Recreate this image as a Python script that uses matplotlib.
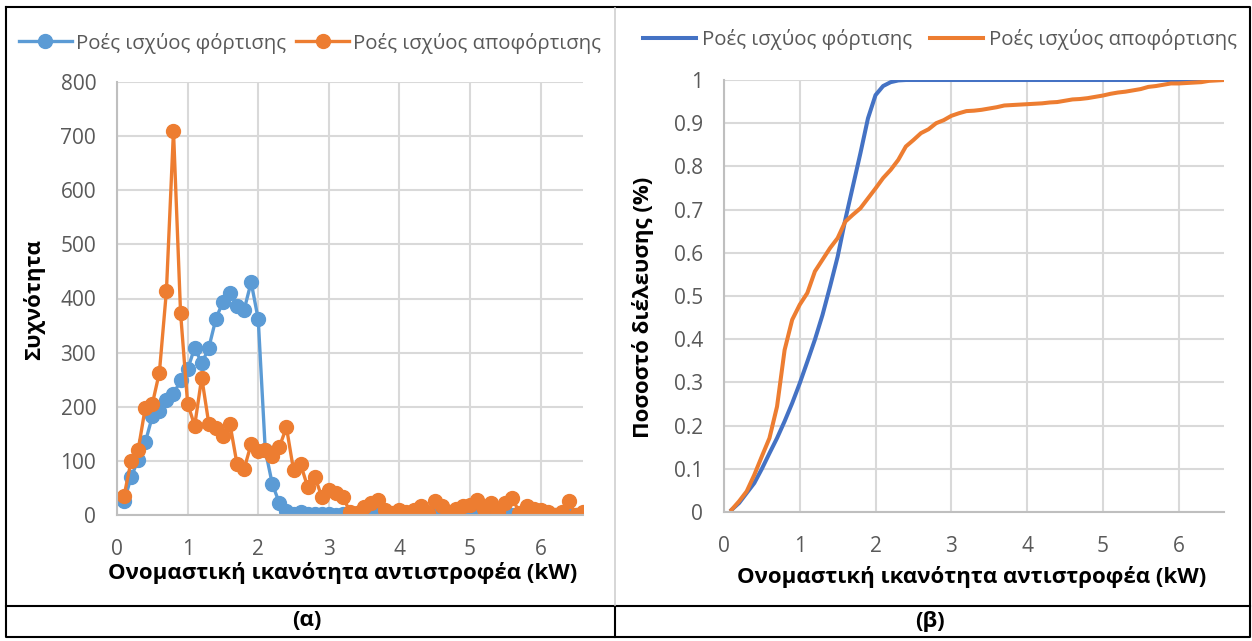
import matplotlib.pyplot as plt
from matplotlib.lines import Line2D
from matplotlib.ticker import FuncFormatter

plt.rcParams['font.family'] = ['Open Sans', 'DejaVu Sans']

W, H = 1252, 641

# ονομαστική ικανότητα αντιστροφέα (kW)
capacity = [0.1, 0.2, 0.3, 0.4, 0.5, 0.6, 0.7, 0.8, 0.9, 1.0,
            1.1, 1.2, 1.3, 1.4, 1.5, 1.6, 1.7, 1.8, 1.9, 2.0,
            2.1, 2.2, 2.3, 2.4, 2.5, 2.6, 2.7, 2.8, 2.9, 3.0,
            3.1, 3.2, 3.3, 3.4, 3.5, 3.6, 3.7, 3.8, 3.9, 4.0,
            4.1, 4.2, 4.3, 4.4, 4.5, 4.6, 4.7, 4.8, 4.9, 5.0,
            5.1, 5.2, 5.3, 5.4, 5.5, 5.6, 5.7, 5.8, 5.9, 6.0,
            6.1, 6.2, 6.3, 6.4, 6.5, 6.6]

# (α) συχνότητα
freq_charge = [25, 70, 102, 134, 182, 192, 212, 223, 249, 269,
               309, 280, 309, 362, 394, 411, 387, 379, 430, 362,
               120, 57, 22, 8, 1, 5, 2, 1, 1, 1,
               0, 1, 0, 1, 0, 1, 0, 1, 0, 0,
               1, 0, 0, 1, 2, 0, 1, 0, 0, 1,
               3, 0, 1, 0, 2, 0, 1, 0, 0, 1,
               0, 0, 1, 0, 0, 1]
freq_discharge = [35, 100, 120, 198, 205, 263, 414, 710, 374, 206,
                  165, 254, 169, 160, 146, 168, 94, 85, 131, 119,
                  120, 109, 126, 162, 83, 94, 52, 71, 34, 47,
                  40, 33, 6, 3, 15, 22, 28, 9, 3, 9,
                  6, 9, 17, 3, 25, 17, 6, 12, 17, 18,
                  28, 12, 22, 6, 23, 31, 4, 17, 12, 9,
                  6, 0, 6, 26, 0, 6]

# (β) ποσοστό διέλευσης
cum_charge = [0.005, 0.021, 0.044, 0.067, 0.10, 0.136, 0.171, 0.21, 0.252, 0.298,
              0.348, 0.399, 0.456, 0.522, 0.591, 0.676, 0.753, 0.830, 0.911, 0.965,
              0.986, 0.995, 0.999, 1.0, 1.0, 1.0, 1.0, 1.0, 1.0, 1.0,
              1.0, 1.0, 1.0, 1.0, 1.0, 1.0, 1.0, 1.0, 1.0, 1.0,
              1.0, 1.0, 1.0, 1.0, 1.0, 1.0, 1.0, 1.0, 1.0, 1.0,
              1.0, 1.0, 1.0, 1.0, 1.0, 1.0, 1.0, 1.0, 1.0, 1.0,
              1.0, 1.0, 1.0, 1.0, 1.0, 1.0]
cum_discharge = [0.005, 0.025, 0.048, 0.086, 0.129, 0.171, 0.244, 0.375, 0.445, 0.48,
                 0.507, 0.557, 0.584, 0.611, 0.634, 0.672, 0.688, 0.703, 0.726, 0.749,
                 0.773, 0.792, 0.815, 0.846, 0.861, 0.877, 0.886, 0.900, 0.907, 0.917,
                 0.923, 0.928, 0.929, 0.931, 0.934, 0.937, 0.941, 0.942, 0.943, 0.944,
                 0.945, 0.946, 0.948, 0.949, 0.952, 0.955, 0.956, 0.958, 0.961, 0.964,
                 0.968, 0.971, 0.973, 0.976, 0.979, 0.984, 0.986, 0.989, 0.992, 0.992,
                 0.993, 0.994, 0.995, 0.998, 0.999, 1.0]

labels = ['Ροές ισχύος φόρτισης', 'Ροές ισχύος αποφόρτισης']
xlabel = 'Ονομαστική ικανότητα αντιστροφέα (kW)'

blue1, blue2, orange = '#5B9BD5', '#4472C4', '#ED7D31'
grid_c, tick_c = '#D9D9D9', '#595959'


def px_box(x0, y0, x1, y1):
    # pixel box (top-left origin) -> figure fraction rect
    return [x0 / W, 1 - y1 / H, (x1 - x0) / W, (y1 - y0) / H]


def style(ax):
    ax.grid(True, color=grid_c, lw=1.5)
    ax.set_axisbelow(True)
    for s in ['top', 'right']:
        ax.spines[s].set_visible(False)
    for s in ['left', 'bottom']:
        ax.spines[s].set_color('#BFBFBF')
        ax.spines[s].set_linewidth(1.5)
    ax.tick_params(length=0, labelsize=15, colors=tick_c)
    ax.tick_params(axis='x', pad=17)
    ax.tick_params(axis='y', pad=15)
    ax.set_xticks([0, 1, 2, 3, 4, 5, 6])
    ax.set_xlim(0, 6.6)


fig = plt.figure(figsize=(W / 100, H / 100), dpi=100)

# (α)
ax1 = fig.add_axes(px_box(117, 82, 583, 515))
ax1.plot(capacity, freq_charge, '-o', color=blue1, lw=2.4, ms=10, label=labels[0])
ax1.plot(capacity, freq_discharge, '-o', color=orange, lw=2.4, ms=10, label=labels[1])
style(ax1)
ax1.set_ylim(0, 800)
ax1.set_yticks(range(0, 801, 100))
ax1.set_xlabel(xlabel, fontsize=16, fontweight='bold')
ax1.xaxis.set_label_coords((343 - 117) / 466, -(562 - 515) / 433)
ax1.set_ylabel('Συχνότητα', fontsize=16, fontweight='bold')
ax1.yaxis.set_label_coords(-(117 - 45) / 466, (515 - 300) / 433)
ax1.legend(loc='center', bbox_to_anchor=((310 - 117) / 466, (515 - 43) / 433),
           ncol=2, frameon=False, fontsize=14.7, handlelength=2.6,
           columnspacing=0.5, handletextpad=0.2, labelcolor=tick_c)

# (β)
ax2 = fig.add_axes(px_box(724, 80, 1224, 512))
ax2.plot(capacity, cum_charge, color=blue2, lw=2.9, label=labels[0])
ax2.plot(capacity, cum_discharge, color=orange, lw=2.9, label=labels[1])
style(ax2)
ax2.set_ylim(0, 1)
ax2.set_yticks([i / 10 for i in range(11)])
ax2.yaxis.set_major_formatter(FuncFormatter(lambda v, p: f'{v:g}'))
ax2.set_xlabel(xlabel, fontsize=16, fontweight='bold')
ax2.xaxis.set_label_coords((972 - 724) / 500, -(566 - 512) / 432)
ax2.set_ylabel('Ποσοστό διέλευσης (%)', fontsize=16, fontweight='bold')
ax2.yaxis.set_label_coords(-(724 - 654) / 500, (512 - 307) / 432)
ax2.legend(loc='center', bbox_to_anchor=((940 - 724) / 500, (512 - 40) / 432),
           ncol=2, frameon=False, fontsize=14.7, handlelength=2.6,
           columnspacing=0.9, handletextpad=0.3, labelcolor=tick_c)


# table frame
def fline(xs, ys, color='black', lw=1.5):
    fig.add_artist(Line2D([x / W for x in xs], [1 - y / H for y in ys],
                          color=color, lw=lw))


fline([6, 1250, 1250, 6, 6], [7, 7, 637, 637, 7])
fline([6, 1250], [606, 606])
fline([615, 615], [606, 637])
fline([615, 615], [8, 605], color='#D0D0D0', lw=1.2)

fig.text(307 / W, 1 - 621 / H, '(α)', ha='center', va='center',
         fontsize=16, fontweight='bold')
fig.text(930 / W, 1 - 621 / H, '(β)', ha='center', va='center',
         fontsize=16, fontweight='bold')

fig.savefig('out.png', dpi=100)
